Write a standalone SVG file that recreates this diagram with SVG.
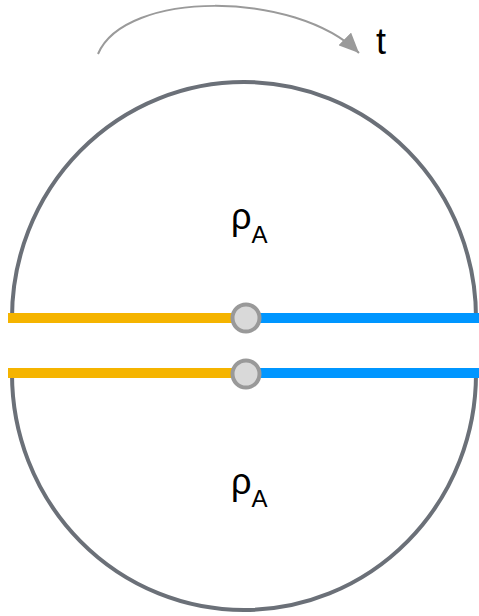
<svg xmlns="http://www.w3.org/2000/svg" width="479" height="616" viewBox="0 0 479 616">
<defs>
<marker id="ah" markerWidth="20" markerHeight="18" refX="20" refY="9" orient="auto" markerUnits="userSpaceOnUse" viewBox="0 0 20 18">
<path d="M0,0 L20,9 L0,18 Z" fill="#9a9a9a"/>
</marker>
<style>
.arc{fill:none;stroke:#6b7078;stroke-width:4}
.y{stroke:#f5b400;stroke-width:10}
.b{stroke:#0096ff;stroke-width:10}
.dot{fill:#d9d9d9;stroke:#999;stroke-width:4}
.lbl{font-family:"Liberation Sans",Arial,sans-serif;fill:#000}
</style>
</defs>
<g id="connectors">
<path d="M98,54 C125,-10 295,-10 359,53" fill="none" stroke="#9a9a9a" stroke-width="2" marker-end="url(#ah)"/>
<path class="arc" d="M12,318 A232,236 0 0 1 476,318"/>
<path class="arc" d="M12,374 A232,236 0 0 0 476,374"/>
<line class="y" x1="8" y1="318" x2="240" y2="318"/>
<line class="b" x1="252" y1="318" x2="479" y2="318"/>
<line class="y" x1="8" y1="373" x2="240" y2="373"/>
<line class="b" x1="252" y1="373" x2="479" y2="373"/>
</g>
<g id="node-top">
<circle class="dot" cx="246" cy="318" r="13.5"/>
<text class="lbl" x="231" y="229" font-size="36">ρ<tspan font-size="24" dy="14">A</tspan></text>
</g>
<g id="node-bottom">
<circle class="dot" cx="246" cy="374" r="13.5"/>
<text class="lbl" x="231" y="494" font-size="36">ρ<tspan font-size="24" dy="13">A</tspan></text>
</g>
<g id="label-t">
<text class="lbl" x="376" y="54" font-size="36">t</text>
</g>
</svg>
